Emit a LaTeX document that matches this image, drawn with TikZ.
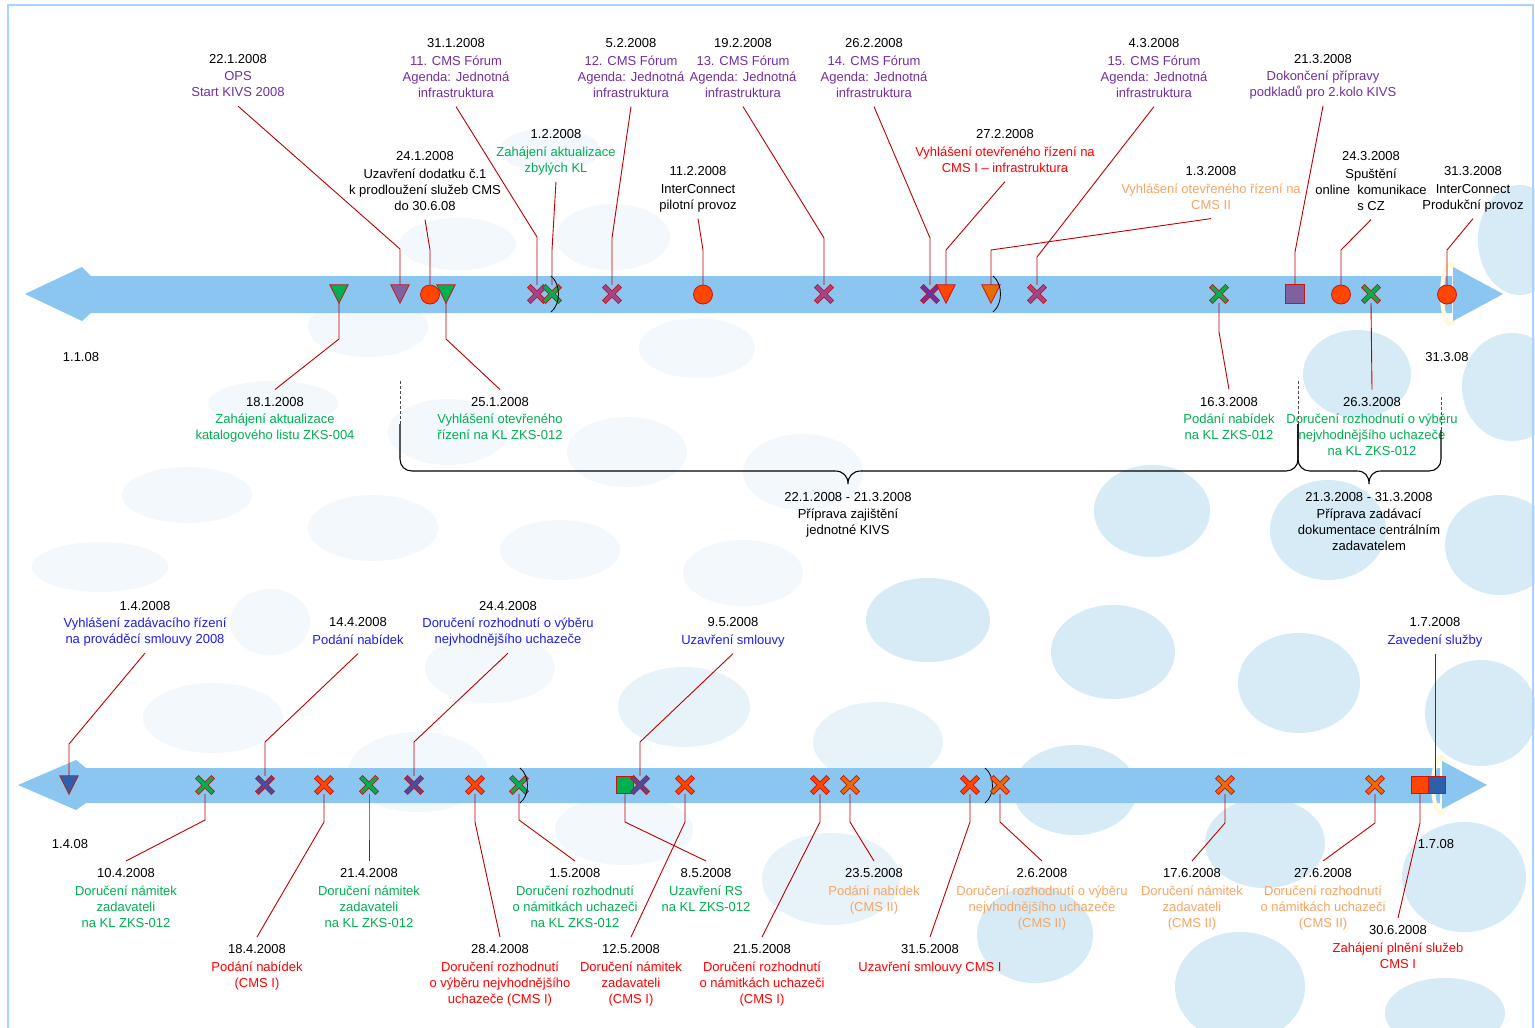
\documentclass[tikz,border=0pt]{standalone}
\usepackage{fontspec}
\setmainfont{Liberation Sans}
\usetikzlibrary{calc}
\definecolor{barblue}{RGB}{138,198,240}
\definecolor{bubA}{RGB}{214,235,245}
\definecolor{bubM}{RGB}{231,242,249}
\definecolor{bubB}{RGB}{243,248,252}
\definecolor{framec}{RGB}{170,210,250}
\definecolor{leadc}{RGB}{190,0,0}
\definecolor{mred}{RGB}{200,20,20}
\definecolor{purp}{RGB}{112,48,160}
\definecolor{grn}{RGB}{0,176,80}
\definecolor{redt}{RGB}{255,0,0}
\definecolor{orat}{RGB}{247,165,100}
\definecolor{blut}{RGB}{30,30,235}
\definecolor{fOR}{RGB}{255,69,0}
\definecolor{fORb}{RGB}{228,108,10}
\definecolor{fPU}{RGB}{128,96,160}
\definecolor{fMV}{RGB}{160,70,140}
\definecolor{fVI}{RGB}{112,48,160}
\definecolor{fGR}{RGB}{0,176,80}
\definecolor{fBL}{RGB}{46,95,170}
\definecolor{fBX}{RGB}{75,75,160}
\definecolor{cream}{RGB}{255,250,218}
\tikzset{
 lbl/.style={align=center, inner sep=0pt, anchor=north, font=\fontsize{13}{16}\selectfont},
 plainlbl/.style={inner sep=0pt, font=\fontsize{13}{16}\selectfont, text=black},
 mbox/.style={inner sep=0pt, minimum size=18pt, draw=none},
 mcirc/.style={circle, inner sep=0pt, minimum size=19pt, draw=mred, line width=0.8pt, fill=fOR},
 msq/.style={rectangle, inner sep=0pt, minimum size=#1, draw=mred, line width=0.8pt},
 leader/.style={draw=leadc, line width=0.9pt},
 bracel/.style={draw=black, line width=1.1pt},
 bdash/.style={draw=black!70, line width=0.9pt, dash pattern=on 3pt off 2pt},
 monarc/.style={draw=black, line width=0.8pt},
}
\newcommand\ev[6]{\node[lbl,text=#4] (#1) at (#2,#3-12) {\rule{0pt}{16.7pt}\textcolor{black}{#5}\\[1.5pt]#6\rule[-9pt]{0pt}{9pt}};}
\newcommand\mX[4]{\node[mbox] (#1) at (#2,#3) {};
  \filldraw[fill=#4, draw=mred, line width=0.7pt, shift={(#2,#3)}, rotate=45] (2.2,11.2) -- (2.2,2.2) -- (11.2,2.2) -- (11.2,-2.2) -- (2.2,-2.2) -- (2.2,-11.2) -- (-2.2,-11.2) -- (-2.2,-2.2) -- (-11.2,-2.2) -- (-11.2,2.2) -- (-2.2,2.2) -- (-2.2,11.2) -- cycle;}
\newcommand\mT[4]{\node[mbox] (#1) at (#2,#3) {};
  \filldraw[fill=#4, draw=mred, line width=0.8pt] (#1.north west) -- (#1.north east) -- (#1.south) -- cycle;}
\begin{document}
\begin{tikzpicture}[x=1pt,y=-1pt]
\useasboundingbox (0,0) rectangle (1535,1028);
\fill[white] (0,0) rectangle (1535,1028);
% background bubbles
\begin{scope}
\clip (0,0) rectangle (1535,1028);
\foreach \bx/\by/\rx/\ry in {458/244/58/26, 613/237/57/33, 550/150/50/22, 368/327/60/30, 273/403/65/22, 448/432/60/33, 187/495/65/28, 373/528/65/33, 100/567/68/25, 697/348/58/30, 627/452/60/35, 803/472/60/38, 560/550/60/30, 743/573/60/33, 270/622/40/33, 213/718/70/35, 490/668/65/35, 418/772/70/40, 624/830/69/35}
  {\fill[bubB] (\bx,\by) ellipse [x radius=\rx, y radius=\ry];}
\foreach \bx/\by/\rx/\ry in {684/707/66/40, 878/742/65/40, 831/879/69/46}
  {\fill[bubM] (\bx,\by) ellipse [x radius=\rx, y radius=\ry];}
\foreach \bx/\by/\rx/\ry in {1520/240/42/55, 1357/374/54/44, 1512/387/50/54, 1152/511/58/46, 1328/530/58/50, 1500/545/55/50, 928/620/62/42, 1113/652/62/47, 1299/683/61/50, 1481/713/56/53, 1075/790/62/45, 1265/843/60/45, 1464/877/62/55, 1035/935/58/48, 1240/987/65/55, 1445/1013/60/35}
  {\fill[bubA] (\bx,\by) ellipse [x radius=\rx, y radius=\ry];}
\end{scope}
% frame
\draw[framec, line width=2pt] (8,1030) -- (8,5) -- (1533,5) -- (1533,1030);
% top timeline bar
\fill[barblue] (25,294) -- (82,267) -- (91,276) -- (1452,276) -- (1452,313) -- (91,313) -- (82,321) -- cycle;
\draw[cream, line width=4pt] (1450,294) ellipse [x radius=8, y radius=30];
\fill[barblue] (1453,267) -- (1503,294) -- (1453,321) -- cycle;
% bottom timeline bar
\fill[barblue] (18,785) -- (76,760) -- (86,768) -- (1440,768) -- (1440,803) -- (86,803) -- (76,810) -- cycle;
\draw[cream, line width=4pt] (1441,785) ellipse [x radius=8, y radius=28];
\fill[barblue] (1442,761) -- (1487,785) -- (1442,809) -- cycle;
% top markers
\mT{m1}{339}{294}{fGR}
\mT{m2}{400}{294}{fPU}
\node[mcirc] (m3) at (430,294.5) {};
\mT{m4}{446}{294}{fGR}
\mX{m5}{537}{294}{fMV}
\mX{m6}{552}{294}{fGR}
\draw[monarc] (551,276) .. controls (561,284) and (561,304) .. (551,312);
\mX{m7}{612}{294}{fMV}
\node[mcirc] (m8) at (703,294.5) {};
\mX{m9}{824}{294}{fMV}
\mX{m10}{930}{294}{fVI}
\mT{m11}{946}{294}{fOR}
\mT{m12}{991}{294}{fORb}
\draw[monarc] (993,276) .. controls (1003,284) and (1003,304) .. (993,312);
\mX{m13}{1037}{294}{fMV}
\mX{m14}{1219}{294}{fGR}
\node[msq=19pt, fill=fPU] (m15) at (1295,294) {};
\node[mcirc] (m16) at (1341,294.5) {};
\mX{m17}{1371}{294}{fGR}
\node[mcirc] (m18) at (1447,294.5) {};
% bottom markers
\mT{n1}{69}{785}{fBL}
\mX{n2}{205}{785}{fGR}
\mX{n3}{265}{785}{fBX}
\mX{n4}{324}{785}{fOR}
\mX{n5}{369}{785}{fGR}
\mX{n6}{414}{785}{fBX}
\mX{n7}{475}{785}{fOR}
\mX{n8}{519}{785}{fGR}
\draw[monarc] (520,768) .. controls (530,776) and (530,795) .. (520,803);
\node[msq=17pt, fill=fGR] (n9) at (625,785) {};
\mX{n10}{640}{785}{fBX}
\mX{n11}{685}{785}{fOR}
\mX{n12}{820}{785}{fOR}
\mX{n13}{850}{785}{fORb}
\mX{n14}{970}{785}{fOR}
\draw[monarc] (985,768) .. controls (995,776) and (995,795) .. (985,803);
\mX{n15}{1000}{785}{fORb}
\mX{n16}{1225}{785}{fORb}
\mX{n17}{1375}{785}{fORb}
\node[msq=17pt, fill=fOR] (n18) at (1420,785) {};
\node[msq=17pt, fill=fBL] (n19) at (1437,785) {};
% labels above top timeline
\ev{T1}{238}{58.5}{purp}{22.1.2008}{OPS\\Start KIVS 2008}
\ev{T2}{425}{156}{black}{24.1.2008}{Uzavření dodatku č.1\\k prodloužení služeb CMS\\do 30.6.08}
\ev{T3}{456}{43}{purp}{31.1.2008}{11. CMS Fórum\\Agenda: Jednotná\\infrastruktura}
\ev{T4}{556}{134}{grn}{1.2.2008}{Zahájení aktualizace\\zbylých KL}
\ev{T5}{631}{43}{purp}{5.2.2008}{12. CMS Fórum\\Agenda: Jednotná\\infrastruktura}
\ev{T6}{698}{171}{black}{11.2.2008}{InterConnect\\pilotní provoz}
\ev{T7}{743}{43}{purp}{19.2.2008}{13. CMS Fórum\\Agenda: Jednotná\\infrastruktura}
\ev{T8}{874}{43}{purp}{26.2.2008}{14. CMS Fórum\\Agenda: Jednotná\\infrastruktura}
\ev{T9}{1005}{134}{redt}{27.2.2008}{Vyhlášení otevřeného řízení na\\CMS I – infrastruktura}
\ev{T10}{1211}{171}{orat}{1.3.2008}{Vyhlášení otevřeného řízení na\\CMS II}
\ev{T11}{1154}{43}{purp}{4.3.2008}{15. CMS Fórum\\Agenda: Jednotná\\infrastruktura}
\ev{T12}{1323}{58.5}{purp}{21.3.2008}{Dokončení přípravy\\podkladů pro 2.kolo KIVS}
\ev{T13}{1371}{156}{black}{24.3.2008}{Spuštění\\online\ \ komunikace\\s CZ}
\ev{T14}{1473}{171}{black}{31.3.2008}{InterConnect\\Produkční provoz}
% labels below top timeline
\ev{B1}{275}{401.5}{grn}{18.1.2008}{Zahájení aktualizace\\katalogového listu ZKS-004}
\ev{B2}{500}{401.5}{grn}{25.1.2008}{Vyhlášení otevřeného\\řízení na KL ZKS-012}
\ev{B3}{1229}{401.5}{grn}{16.3.2008}{Podání nabídek\\na KL ZKS-012}
\ev{B4}{1372}{401.5}{grn}{26.3.2008}{Doručení rozhodnutí o výběru\\nejvhodnějšího uchazeče\\na KL ZKS-012}
\ev{BR1}{848}{496.5}{black}{22.1.2008 - 21.3.2008}{Příprava zajištění\\jednotné KIVS}
\ev{BR2}{1369}{496.5}{black}{21.3.2008 - 31.3.2008}{Příprava zadávací\\dokumentace centrálním\\zadavatelem}
% axis end labels
\node[plainlbl] (a1) at (81,357) {1.1.08};
\node[plainlbl] (a2) at (1447,357) {31.3.08};
\node[plainlbl] (a3) at (70,844) {1.4.08};
\node[plainlbl] (a4) at (1436,844) {1.7.08};
% labels above bottom timeline
\ev{U1}{145}{605.5}{blut}{1.4.2008}{Vyhlášení zadávacího řízení\\na prováděcí smlouvy 2008}
\ev{U2}{358}{622}{blut}{14.4.2008}{Podání nabídek}
\ev{U3}{508}{605.5}{blut}{24.4.2008}{Doručení rozhodnutí o výběru\\nejvhodnějšího uchazeče}
\ev{U4}{733}{622}{blut}{9.5.2008}{Uzavření smlouvy}
\ev{U5}{1435}{622}{blut}{1.7.2008}{Zavedení služby}
% labels below bottom timeline
\ev{D1}{126}{873}{grn}{10.4.2008}{Doručení námitek\\zadavateli\\na KL ZKS-012}
\ev{D2}{257}{949}{redt}{18.4.2008}{Podání nabídek\\(CMS I)}
\ev{D3}{369}{873}{grn}{21.4.2008}{Doručení námitek\\zadavateli\\na KL ZKS-012}
\ev{D4}{500}{949}{redt}{28.4.2008}{Doručení rozhodnutí\\o výběru nejvhodnějšího\\uchazeče (CMS I)}
\ev{D5}{575}{873}{grn}{1.5.2008}{Doručení rozhodnutí\\o námitkách uchazeči\\na KL ZKS-012}
\ev{D6}{706}{873}{grn}{8.5.2008}{Uzavření RS\\na KL ZKS-012}
\ev{D7}{631}{949}{redt}{12.5.2008}{Doručení námitek\\zadavateli\\(CMS I)}
\ev{D8}{762}{949}{redt}{21.5.2008}{Doručení rozhodnutí\\o námitkách uchazeči\\(CMS I)}
\ev{D9}{874}{873}{orat}{23.5.2008}{Podání nabídek\\(CMS II)}
\ev{D10}{930}{949}{redt}{31.5.2008}{Uzavření smlouvy CMS I}
\ev{D11}{1042}{873}{orat}{2.6.2008}{Doručení rozhodnutí o výběru\\nejvhodnějšího uchazeče\\(CMS II)}
\ev{D12}{1192}{873}{orat}{17.6.2008}{Doručení námitek\\zadavateli\\(CMS II)}
\ev{D13}{1323}{873}{orat}{27.6.2008}{Doručení rozhodnutí\\o námitkách uchazeči\\(CMS II)}
\ev{D14}{1398}{930}{redt}{30.6.2008}{Zahájení plnění služeb\\CMS I}
% braces
\draw[bdash] (400,381) -- (400,424);
\draw[bdash] (1298,381) -- (1298,424);
\draw[bdash] (1441,397) -- (1441,430);
\draw[bracel] (400,424) -- (400,459) .. controls (400,466) and (405,471) .. (412,471) -- (835,471) .. controls (843,471) and (848,476) .. (848,484) .. controls (848,476) and (853,471) .. (861,471) -- (1286,471) .. controls (1293,471) and (1298,466) .. (1298,459) -- (1298,424);
\draw[bracel] (1298,424) -- (1298,459) .. controls (1298,466) and (1303,471) .. (1310,471) -- (1357,471) .. controls (1365,471) and (1369,476) .. (1369,484) .. controls (1369,476) and (1373,471) .. (1381,471) -- (1429,471) .. controls (1436,471) and (1441,466) .. (1441,459) -- (1441,430);
% leaders top, above
\draw[leader] (T1.south) -- (400,249) -- (m2.north);
\draw[leader] (T2.south) -- (430,250) -- (m3.north);
\draw[leader] (T3.south) -- (537,237) -- (m5.north);
\draw[leader] (T4.south) -- (552,250) -- (m6.north);
\draw[leader] (T5.south) -- (612,238) -- (m7.north);
\draw[leader] (T6.south) -- (703,250) -- (m8.north);
\draw[leader] (T7.south) -- (824,238) -- (m9.north);
\draw[leader] (T8.south) -- (930,238) -- (m10.north);
\draw[leader] (T9.south) -- (946,250) -- (m11.north);
\draw[leader] (T10.south) -- (991,250) -- (m12.north);
\draw[leader] (T11.south) -- (1037,257) -- (m13.north);
\draw[leader] (T12.south) -- (1295,252) -- (m15.north);
\draw[leader] (T13.south) -- (1341,250) -- (m16.north);
\draw[leader] (T14.south) -- (1447,250) -- (m18.north);
% leaders top, below
\draw[leader] (m1.south) -- (339,339) -- (B1.north);
\draw[leader] (m4.south) -- (446,339) -- (B2.north);
\draw[leader] (m14.south) -- (1219,332) -- (B3.north);
\draw[leader] (m17.south) -- (B4.north);
% leaders bottom, above
\draw[leader] (U1.south) -- (69,744) -- (n1.north);
\draw[leader] (U2.south) -- (265,742) -- (n3.north);
\draw[leader] (U3.south) -- (414,742) -- (n6.north);
\draw[leader] (U4.south) -- (640,742) -- (n10.north);
\draw[leader] (U5.south) -- (U5.south |- n19.north);
% leaders bottom, below
\draw[leader] (n2.south) -- (205,820) -- (D1.north);
\draw[leader] (n4.south) -- (324,822) -- (D2.north);
\draw[leader] (n5.south) -- (369,820) -- (D3.north);
\draw[leader] (n7.south) -- (475,822) -- (D4.north);
\draw[leader] (n8.south) -- (519,820) -- (D5.north);
\draw[leader] (n9.south) -- (625,822) -- (D6.north);
\draw[leader] (n11.south) -- (685,822) -- (D7.north);
\draw[leader] (n12.south) -- (820,822) -- (D8.north);
\draw[leader] (n13.south) -- (850,822) -- (D9.north);
\draw[leader] (n14.south) -- (970,822) -- (D10.north);
\draw[leader] (n15.south) -- (1000,822) -- (D11.north);
\draw[leader] (n16.south) -- (1225,823) -- (D12.north);
\draw[leader] (n17.south) -- (1375,823) -- (D13.north);
\draw[leader] (n18.south) -- (1420,823) -- (D14.north);
\end{tikzpicture}
\end{document}
